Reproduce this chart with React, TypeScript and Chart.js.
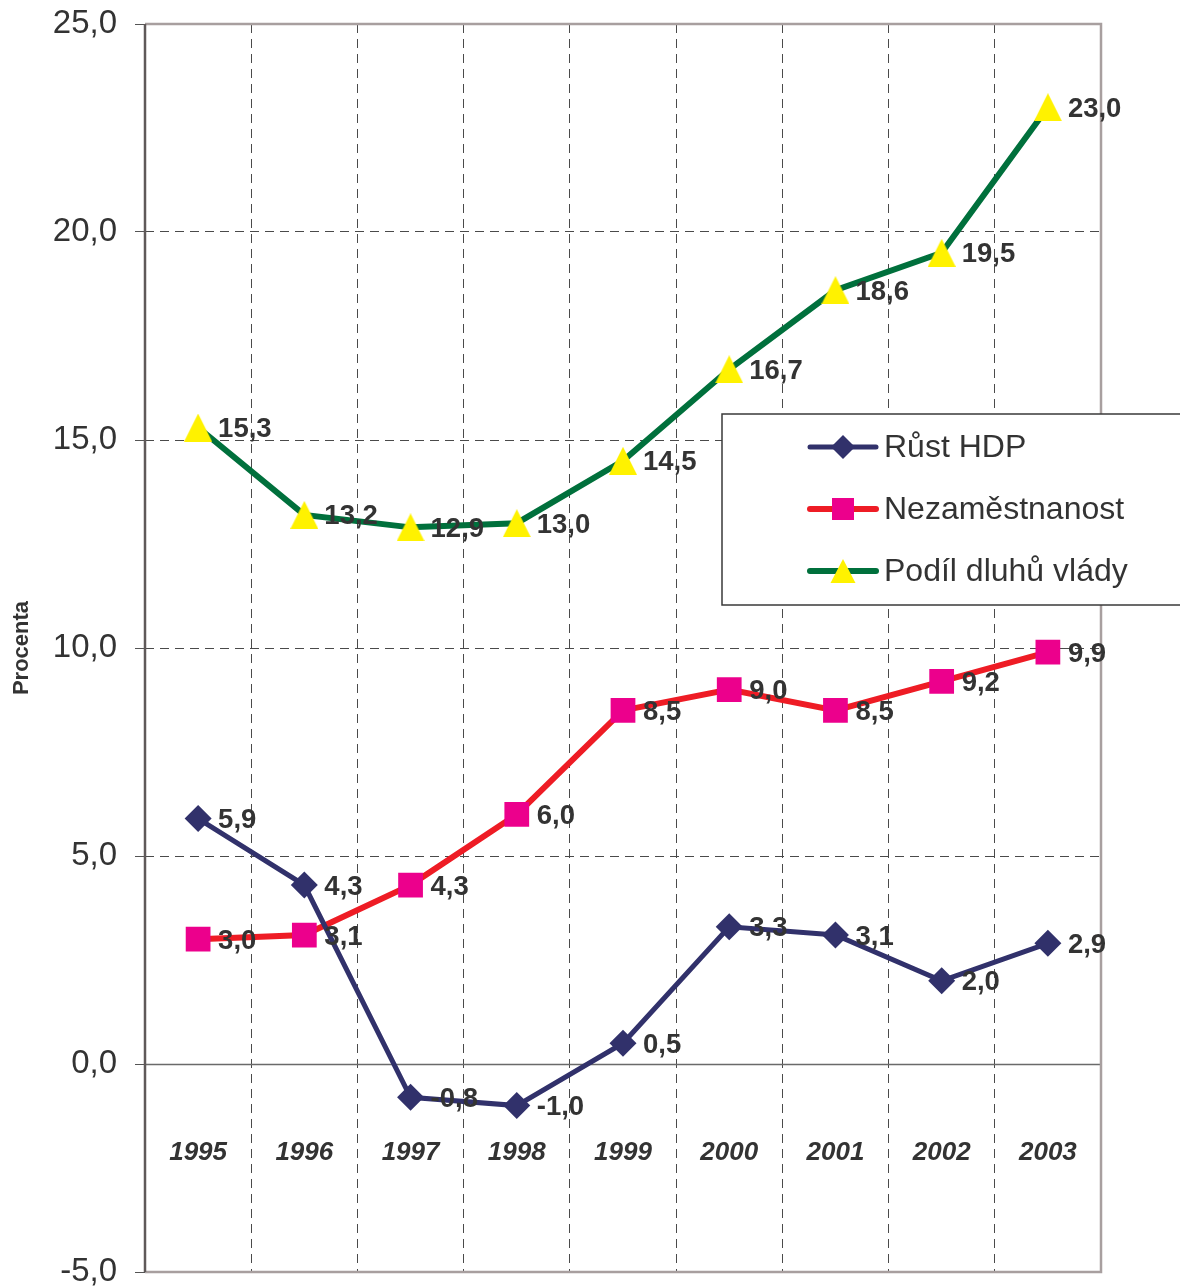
import React, { useEffect, useRef } from 'react';
import { Chart, registerables } from 'chart.js';

Chart.register(...registerables);

// ---------- data ----------
const years = ['1995', '1996', '1997', '1998', '1999', '2000', '2001', '2002', '2003'];
const rustHdp = [5.9, 4.3, -0.8, -1.0, 0.5, 3.3, 3.1, 2.0, 2.9];
const nezamestnanost = [3.0, 3.1, 4.3, 6.0, 8.5, 9.0, 8.5, 9.2, 9.9];
const podilDluhu = [15.3, 13.2, 12.9, 13.0, 14.5, 16.7, 18.6, 19.5, 23.0];
const seriesNames = ['Růst HDP', 'Nezaměstnanost', 'Podíl dluhů vlády'];
const yMin = -5;
const yMax = 25;
const yStep = 5;
const yTitle = 'Procenta';

// ---------- styles ----------
const FONT = '"Liberation Sans", Arial, Helvetica, sans-serif';
const TEXT = '#333333';
const NAVY = '#31316b';
const RED = '#ee1c25';
const MAGENTA = '#ec008c';
const GREEN = '#00703c';
const YELLOW = '#fff200';
const GRID = '#4a4a4a';

const fmt = (v: number) => v.toFixed(1).replace('.', ',');

function makeTriangle(w: number, h: number, color: string) {
  const c = document.createElement('canvas');
  c.width = w;
  c.height = h;
  const g = c.getContext('2d')!;
  g.fillStyle = color;
  g.beginPath();
  g.moveTo(w / 2, 0);
  g.lineTo(w, h);
  g.lineTo(0, h);
  g.closePath();
  g.fill();
  return c;
}

const framePlugin = {
  id: 'frameAndYears',
  beforeDatasetsDraw(chart: any) {
    const { ctx, chartArea: a, scales } = chart;
    const x = scales.x;
    const y = scales.y;
    ctx.save();
    ctx.setLineDash([]);
    const y0 = Math.round(y.getPixelForValue(0)) + 0.5;
    ctx.strokeStyle = '#6a6a6a';
    ctx.lineWidth = 1.5;
    ctx.beginPath();
    ctx.moveTo(a.left, y0);
    ctx.lineTo(a.right, y0);
    ctx.stroke();
    ctx.strokeStyle = '#a89f9f';
    ctx.lineWidth = 2.5;
    ctx.beginPath();
    ctx.moveTo(a.left, a.top);
    ctx.lineTo(a.right, a.top);
    ctx.lineTo(a.right, a.bottom);
    ctx.lineTo(a.left, a.bottom);
    ctx.stroke();
    ctx.strokeStyle = '#5f5959';
    ctx.beginPath();
    ctx.moveTo(a.left, a.top);
    ctx.lineTo(a.left, a.bottom);
    ctx.stroke();
    ctx.fillStyle = TEXT;
    ctx.font = `italic bold 26px ${FONT}`;
    ctx.textAlign = 'center';
    ctx.textBaseline = 'middle';
    const ly = y.getPixelForValue(-2.14);
    years.forEach((yr, i) => {
      ctx.fillText(yr, x.getPixelForValue(i), ly);
    });
    ctx.restore();
  },
};

const labelPlugin = {
  id: 'valueLabels',
  afterDatasetsDraw(chart: any) {
    const { ctx } = chart;
    ctx.save();
    ctx.fillStyle = TEXT;
    ctx.font = `bold 27.5px ${FONT}`;
    ctx.textAlign = 'left';
    ctx.textBaseline = 'middle';
    chart.data.datasets.forEach((ds: any, di: number) => {
      const meta = chart.getDatasetMeta(di);
      meta.data.forEach((pt: any, i: number) => {
        ctx.fillText(fmt(ds.data[i]), pt.x + 20, pt.y + 2);
      });
    });
    ctx.restore();
  },
};

const legendPlugin = {
  id: 'boxLegend',
  afterDraw(chart: any) {
    const { ctx } = chart;
    const bx = 722;
    const by = 414;
    const bw = 480;
    const bh = 191;
    ctx.save();
    ctx.setLineDash([]);
    ctx.fillStyle = '#ffffff';
    ctx.fillRect(bx, by, bw, bh);
    ctx.strokeStyle = '#3a3a3a';
    ctx.lineWidth = 1.5;
    ctx.strokeRect(bx, by, bw, bh);
    const rows = [447, 509, 571];
    chart.data.datasets.forEach((ds: any, i: number) => {
      const ry = rows[i];
      ctx.strokeStyle = ds.borderColor;
      ctx.lineWidth = ds.borderWidth;
      ctx.lineCap = 'round';
      ctx.beginPath();
      ctx.moveTo(810, ry);
      ctx.lineTo(876, ry);
      ctx.stroke();
      const cx = 843;
      ctx.fillStyle = ds.pointBackgroundColor;
      ctx.beginPath();
      if (i === 0) {
        const r = 12;
        ctx.moveTo(cx, ry - r);
        ctx.lineTo(cx + r, ry);
        ctx.lineTo(cx, ry + r);
        ctx.lineTo(cx - r, ry);
        ctx.closePath();
        ctx.fill();
      } else if (i === 1) {
        ctx.fillRect(cx - 11, ry - 11, 22, 22);
      } else {
        ctx.moveTo(cx, ry - 12);
        ctx.lineTo(cx + 12.5, ry + 12);
        ctx.lineTo(cx - 12.5, ry + 12);
        ctx.closePath();
        ctx.fill();
      }
      ctx.fillStyle = TEXT;
      ctx.font = `32px ${FONT}`;
      ctx.textAlign = 'left';
      ctx.textBaseline = 'middle';
      ctx.fillText(ds.label, 884, ry + 1);
    });
    ctx.restore();
  },
};

export default function App() {
  const ref = useRef<HTMLCanvasElement | null>(null);

  useEffect(() => {
    document.body.style.margin = '0';
    const canvas = ref.current;
    if (!canvas) return;
    const tri = makeTriangle(28, 28, YELLOW);

    const chart = new Chart(canvas, {
      type: 'line',
      data: {
        labels: years,
        datasets: [
          {
            label: seriesNames[0],
            data: rustHdp,
            borderColor: NAVY,
            backgroundColor: NAVY,
            borderWidth: 5,
            pointStyle: 'rectRot',
            pointRadius: 13.5,
            pointBackgroundColor: NAVY,
            pointBorderColor: NAVY,
            pointBorderWidth: 0,
            tension: 0,
          },
          {
            label: seriesNames[1],
            data: nezamestnanost,
            borderColor: RED,
            backgroundColor: MAGENTA,
            borderWidth: 6,
            pointStyle: 'rect',
            pointRadius: 17.5,
            pointBackgroundColor: MAGENTA,
            pointBorderColor: MAGENTA,
            pointBorderWidth: 0,
            tension: 0,
          },
          {
            label: seriesNames[2],
            data: podilDluhu,
            borderColor: GREEN,
            backgroundColor: YELLOW,
            borderWidth: 6,
            pointStyle: tri as any,
            pointRadius: 14,
            pointBackgroundColor: YELLOW,
            pointBorderColor: YELLOW,
            pointBorderWidth: 0,
            tension: 0,
          },
        ],
      },
      options: {
        responsive: false,
        animation: false,
        devicePixelRatio: 1,
        layout: { autoPadding: false, padding: { top: 24, right: 79, bottom: 15, left: 0 } },
        plugins: {
          legend: { display: false },
          tooltip: { enabled: false },
        },
        scales: {
          x: {
            type: 'category',
            offset: true,
            ticks: { display: false },
            grid: {
              offset: true,
              drawTicks: false,
              lineWidth: 1,
              color: (c: any) =>
                c.index === 0 || c.index >= years.length ? 'rgba(0,0,0,0)' : GRID,
            },
            border: { display: false, dash: [9, 6] },
            afterFit(s: any) {
              s.height = 0;
              s.paddingLeft = 0;
              s.paddingRight = 0;
              s.paddingTop = 0;
              s.paddingBottom = 0;
            },
          },
          y: {
            type: 'linear',
            min: yMin,
            max: yMax,
            ticks: {
              stepSize: yStep,
              padding: 18,
              color: TEXT,
              font: { family: FONT, size: 33, lineHeight: 0.7 },
              callback: (v: any) => fmt(Number(v)),
            },
            grid: {
              lineWidth: 1,
              tickLength: 10,
              tickColor: '#555555',
              color: (c: any) => {
                const v = c.tick ? c.tick.value : null;
                if (v === yMin || v === yMax) return 'rgba(0,0,0,0)';
                if (v === 0) return '#6a6a6a';
                return GRID;
              },
            },
            border: {
              display: false,
              dash: (c: any) => (c.tick && c.tick.value === 0 ? [] : [9, 6]),
            },
            title: {
              display: true,
              text: yTitle,
              color: TEXT,
              font: { family: FONT, size: 22, weight: 'bold' },
              padding: { top: 9, bottom: 0 },
            },
            afterFit(s: any) {
              s.width = 145;
              s.paddingTop = 0;
              s.paddingBottom = 0;
            },
          },
        },
      } as any,
      plugins: [framePlugin, labelPlugin, legendPlugin],
    });

    return () => chart.destroy();
  }, []);

  return (
    <div style={{ width: 1180, height: 1287, background: '#fff' }}>
      <canvas ref={ref} width={1180} height={1287} style={{ display: 'block' }} />
    </div>
  );
}
